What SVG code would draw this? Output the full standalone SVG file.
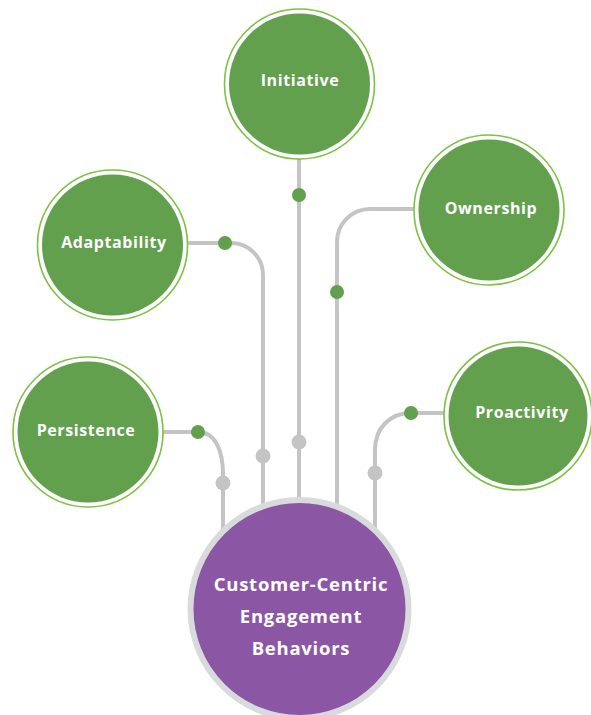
<svg xmlns="http://www.w3.org/2000/svg" width="591" height="715" viewBox="0 0 591 715">
<style>
.ring{fill:#ffffff;stroke:#7dc143;stroke-width:1.6}
.fill{fill:#62a04e}
.lbl{font-family:"Open Sans","Liberation Sans",sans-serif;font-weight:700;font-size:16px;fill:#ffffff;text-anchor:middle;dominant-baseline:central;letter-spacing:0.6px}
.clbl{font-family:"Open Sans","Liberation Sans",sans-serif;font-weight:700;font-size:18.5px;fill:#ffffff;text-anchor:middle;dominant-baseline:central;letter-spacing:0.75px}
.line{fill:none;stroke:#c4c4c4;stroke-width:4}
.gdot{fill:#62a04e}
.sdot{fill:#c4c4c4}
</style>
<rect width="591" height="715" fill="#ffffff"/>
<g id="connectors">
<path class="line" d="M299 158 V560"/>
<path class="line" d="M188 243 H231 A32 32 0 0 1 263 275 V560"/>
<path class="line" d="M163 432 H198 C215 432 223 450 223 475 V560"/>
<path class="line" d="M414 209 H370 A33 33 0 0 0 337 242 V560"/>
<path class="line" d="M445 413 H411 C390 413 375 428 375 450 V560"/>
<circle class="gdot" cx="299" cy="195" r="7"/>
<circle class="sdot" cx="299" cy="442" r="7.5"/>
<circle class="gdot" cx="225" cy="243" r="7"/>
<circle class="sdot" cx="263" cy="456" r="7.5"/>
<circle class="gdot" cx="198" cy="432" r="7"/>
<circle class="sdot" cx="223" cy="483" r="7.5"/>
<circle class="gdot" cx="337" cy="292" r="7"/>
<circle class="gdot" cx="411" cy="413" r="7"/>
<circle class="sdot" cx="375" cy="473" r="7.5"/>
</g>
<g id="node-initiative">
<circle class="ring" cx="299.5" cy="84" r="75"/>
<circle class="fill" cx="299.5" cy="84" r="70.5"/>
<text class="lbl" x="300" y="80">Initiative</text>
</g>
<g id="node-adaptability">
<circle class="ring" cx="112.5" cy="245" r="75"/>
<circle class="fill" cx="112.5" cy="245" r="70.5"/>
<text class="lbl" x="114" y="242">Adaptability</text>
</g>
<g id="node-persistence">
<circle class="ring" cx="88" cy="432" r="75"/>
<circle class="fill" cx="88" cy="432" r="70.5"/>
<text class="lbl" x="86" y="430">Persistence</text>
</g>
<g id="node-ownership">
<circle class="ring" cx="489" cy="210" r="75"/>
<circle class="fill" cx="489" cy="210" r="70.5"/>
<text class="lbl" x="491" y="208">Ownership</text>
</g>
<g id="node-proactivity">
<circle class="ring" cx="518" cy="416" r="74"/>
<circle class="fill" cx="518" cy="416" r="69.5"/>
<text class="lbl" x="522" y="412">Proactivity</text>
</g>
<g id="node-center">
<circle cx="299.5" cy="609" r="109" fill="#8b56a3" stroke="#d9dadb" stroke-width="6"/>
<text class="clbl" x="301" y="583">Customer-Centric</text>
<text class="clbl" x="301" y="615">Engagement</text>
<text class="clbl" x="301" y="647">Behaviors</text>
</g>
</svg>
